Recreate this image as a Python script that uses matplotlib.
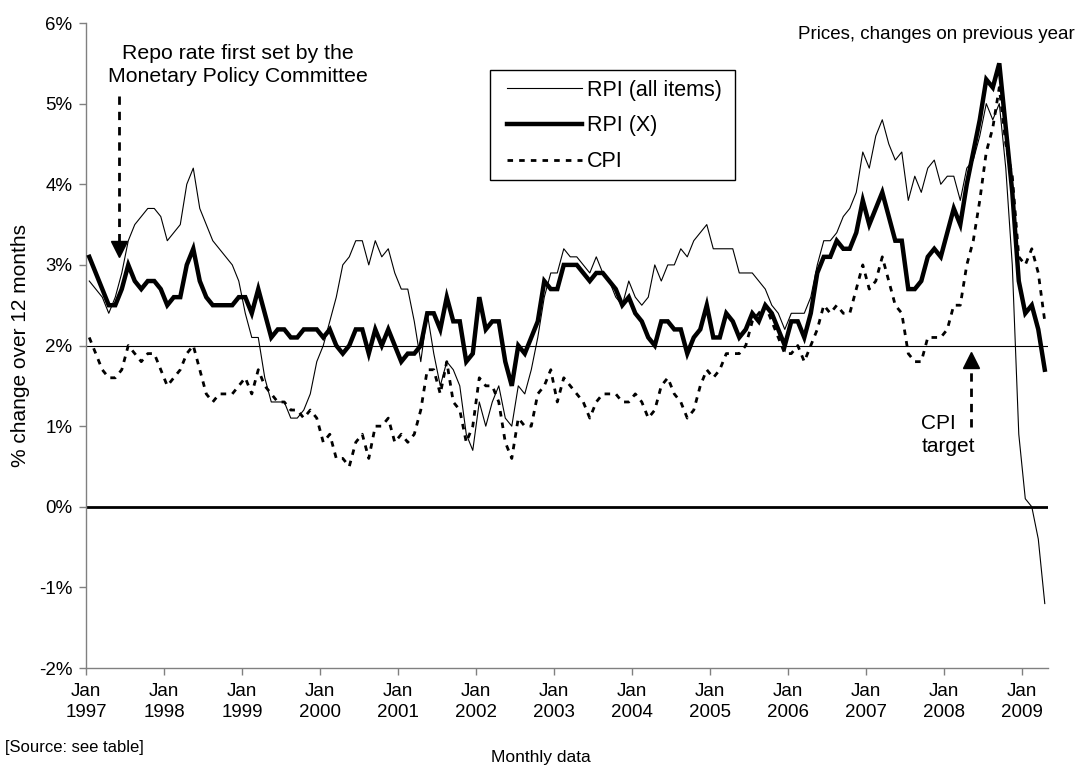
import matplotlib
matplotlib.use("Agg")
import matplotlib.pyplot as plt
from matplotlib.patches import Rectangle
import numpy as np

plt.rcParams['font.family'] = ['Liberation Sans', 'DejaVu Sans']

# monthly, Jan 1997 - Apr 2009, % change on a year earlier
rpi = [2.8, 2.7, 2.6, 2.4, 2.6, 2.9, 3.3, 3.5, 3.6, 3.7, 3.7, 3.6,
       3.3, 3.4, 3.5, 4.0, 4.2, 3.7, 3.5, 3.3, 3.2, 3.1, 3.0, 2.8,
       2.4, 2.1, 2.1, 1.6, 1.3, 1.3, 1.3, 1.1, 1.1, 1.2, 1.4, 1.8,
       2.0, 2.3, 2.6, 3.0, 3.1, 3.3, 3.3, 3.0, 3.3, 3.1, 3.2, 2.9,
       2.7, 2.7, 2.3, 1.8, 2.4, 1.9, 1.5, 1.8, 1.7, 1.5, 0.9, 0.7,
       1.3, 1.0, 1.3, 1.5, 1.1, 1.0, 1.5, 1.4, 1.7, 2.1, 2.6, 2.9,
       2.9, 3.2, 3.1, 3.1, 3.0, 2.9, 3.1, 2.9, 2.8, 2.6, 2.5, 2.8,
       2.6, 2.5, 2.6, 3.0, 2.8, 3.0, 3.0, 3.2, 3.1, 3.3, 3.4, 3.5,
       3.2, 3.2, 3.2, 3.2, 2.9, 2.9, 2.9, 2.8, 2.7, 2.5, 2.4, 2.2,
       2.4, 2.4, 2.4, 2.6, 3.0, 3.3, 3.3, 3.4, 3.6, 3.7, 3.9, 4.4,
       4.2, 4.6, 4.8, 4.5, 4.3, 4.4, 3.8, 4.1, 3.9, 4.2, 4.3, 4.0,
       4.1, 4.1, 3.8, 4.2, 4.3, 4.6, 5.0, 4.8, 5.0, 4.2, 3.0, 0.9,
       0.1, 0.0, -0.4, -1.2]

rpix = [3.1, 2.9, 2.7, 2.5, 2.5, 2.7, 3.0, 2.8, 2.7, 2.8, 2.8, 2.7,
        2.5, 2.6, 2.6, 3.0, 3.2, 2.8, 2.6, 2.5, 2.5, 2.5, 2.5, 2.6,
        2.6, 2.4, 2.7, 2.4, 2.1, 2.2, 2.2, 2.1, 2.1, 2.2, 2.2, 2.2,
        2.1, 2.2, 2.0, 1.9, 2.0, 2.2, 2.2, 1.9, 2.2, 2.0, 2.2, 2.0,
        1.8, 1.9, 1.9, 2.0, 2.4, 2.4, 2.2, 2.6, 2.3, 2.3, 1.8, 1.9,
        2.6, 2.2, 2.3, 2.3, 1.8, 1.5, 2.0, 1.9, 2.1, 2.3, 2.8, 2.7,
        2.7, 3.0, 3.0, 3.0, 2.9, 2.8, 2.9, 2.9, 2.8, 2.7, 2.5, 2.6,
        2.4, 2.3, 2.1, 2.0, 2.3, 2.3, 2.2, 2.2, 1.9, 2.1, 2.2, 2.5,
        2.1, 2.1, 2.4, 2.3, 2.1, 2.2, 2.4, 2.3, 2.5, 2.4, 2.2, 2.0,
        2.3, 2.3, 2.1, 2.4, 2.9, 3.1, 3.1, 3.3, 3.2, 3.2, 3.4, 3.8,
        3.5, 3.7, 3.9, 3.6, 3.3, 3.3, 2.7, 2.7, 2.8, 3.1, 3.2, 3.1,
        3.4, 3.7, 3.5, 4.0, 4.4, 4.8, 5.3, 5.2, 5.5, 4.7, 3.9, 2.8,
        2.4, 2.5, 2.2, 1.7]

cpi = [2.1, 1.9, 1.7, 1.6, 1.6, 1.7, 2.0, 1.9, 1.8, 1.9, 1.9, 1.7,
       1.5, 1.6, 1.7, 1.9, 2.0, 1.7, 1.4, 1.3, 1.4, 1.4, 1.4, 1.5,
       1.6, 1.4, 1.7, 1.5, 1.4, 1.3, 1.3, 1.2, 1.2, 1.1, 1.2, 1.1,
       0.8, 0.9, 0.6, 0.6, 0.5, 0.8, 0.9, 0.6, 1.0, 1.0, 1.1, 0.8,
       0.9, 0.8, 0.9, 1.2, 1.7, 1.7, 1.4, 1.8, 1.3, 1.2, 0.8, 1.0,
       1.6, 1.5, 1.5, 1.3, 0.8, 0.6, 1.1, 1.0, 1.0, 1.4, 1.5, 1.7,
       1.3, 1.6, 1.5, 1.4, 1.3, 1.1, 1.3, 1.4, 1.4, 1.4, 1.3, 1.3,
       1.4, 1.3, 1.1, 1.2, 1.5, 1.6, 1.4, 1.3, 1.1, 1.2, 1.5, 1.7,
       1.6, 1.7, 1.9, 1.9, 1.9, 2.0, 2.3, 2.4, 2.5, 2.3, 2.1, 1.9,
       1.9, 2.0, 1.8, 2.0, 2.2, 2.5, 2.4, 2.5, 2.4, 2.4, 2.7, 3.0,
       2.7, 2.8, 3.1, 2.8, 2.5, 2.4, 1.9, 1.8, 1.8, 2.1, 2.1, 2.1,
       2.2, 2.5, 2.5, 3.0, 3.3, 3.8, 4.4, 4.7, 5.2, 4.5, 4.1, 3.1,
       3.0, 3.2, 2.9, 2.3]

years = list(range(1997, 2010))
yticks = [-2, -1, 0, 1, 2, 3, 4, 5, 6]

x = np.arange(len(rpi))

fig = plt.figure(figsize=(10.78, 7.67), dpi=100)
ax = fig.add_axes([0.0798, 0.129, 0.8924, 0.841])

ax.axhline(2, color='black', lw=0.8, zorder=1)
ax.axhline(0, color='black', lw=2.0, zorder=1)

ax.plot(x, rpi, color='black', lw=0.8, label='RPI (all items)', zorder=3)
ax.plot(x, rpix, color='black', lw=3.2, label='RPI (X)', zorder=4,
        solid_joinstyle='miter')
ax.plot(x, cpi, color='black', lw=2.0, linestyle=(0, (2, 2.2)), label='CPI', zorder=2)

ax.set_xlim(-0.5, len(rpi) - 0.5)
ax.set_ylim(-2, 6)
ax.set_yticks(yticks)
ax.set_yticklabels([f"{v}%" for v in yticks])
ax.set_xticks([-0.5 + 12 * i for i in range(len(years))])
ax.set_xticklabels([f"Jan\n{y}" for y in years])
ax.tick_params(axis='both', labelsize=13.5, direction='out', length=5,
               color='#808080', width=1)
ax.tick_params(axis='x', pad=6)
ax.tick_params(axis='y', pad=5)
for lab in ax.get_xticklabels():
    lab.set_linespacing(1.3)
for s in ['top', 'right']:
    ax.spines[s].set_visible(False)
for s in ['left', 'bottom']:
    ax.spines[s].set_color('#808080')
    ax.spines[s].set_linewidth(1)

ax.set_ylabel('% change over 12 months', fontsize=15, labelpad=6)

# legend: own frame, entries placed inside it
ax.add_patch(Rectangle((0.42, 0.7566), 0.2546, 0.1705, transform=ax.transAxes,
                       facecolor='white', edgecolor='black', lw=1, zorder=5))
leg = ax.legend(loc='upper left', bbox_to_anchor=(0.4376, 0.912), fontsize=15.5,
                frameon=False, handlelength=3.5, handletextpad=0.2,
                labelspacing=0.68, borderpad=0, borderaxespad=0)
leg.set_zorder(6)

# repo rate annotation
ax.plot([4.5, 4.5], [5.09, 3.3], color='black', lw=2, linestyle=(0, (3, 2.5)))
ax.plot([4.5], [3.2], marker='v', color='black', markersize=11)
ax.text(22.8, 5.48, 'Repo rate first set by the\nMonetary Policy Committee',
        ha='center', va='center', fontsize=15.3, linespacing=1.25)

# CPI target annotation
ax.plot([135.7, 135.7], [0.99, 1.72], color='black', lw=2, linestyle=(0, (3, 2.5)))
ax.plot([135.7], [1.82], marker='^', color='black', markersize=11)
ax.text(128.0, 0.893, 'CPI\ntarget', ha='left', va='center', fontsize=15,
        linespacing=1.25)

fig.text(0.997, 0.955, 'Prices, changes on previous year', ha='right',
         va='center', fontsize=13.5)
fig.text(0.502, 0.013, 'Monthly data', ha='center', va='center', fontsize=12.5)
fig.text(0.005, 0.025, '[Source: see table]', ha='left', va='center', fontsize=12)

fig.savefig('out.png', dpi=100)
